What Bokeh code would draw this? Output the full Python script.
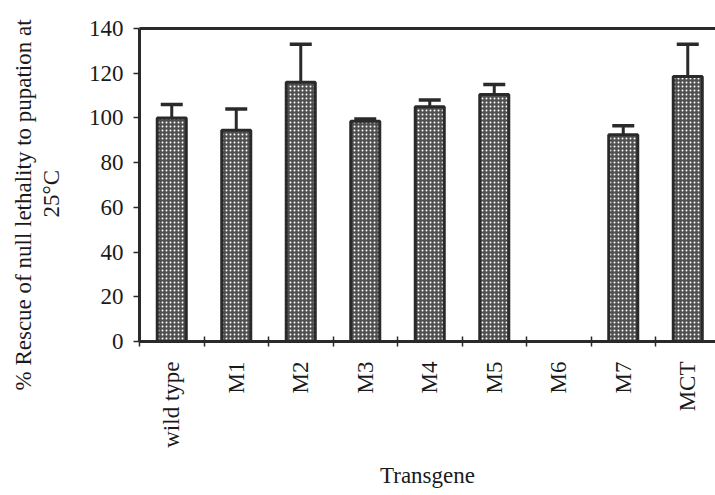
import numpy as np
from bokeh.plotting import figure
from bokeh.models import (ColumnDataSource, FixedTicker, LinearAxis, Whisker, TeeHead, Range1d, Title)
from bokeh.embed import file_html
from bokeh.resources import INLINE

categories = ["wild type", "M1", "M2", "M3", "M4", "M5", "M6", "M7", "MCT"]
rescue = [100, 94.5, 116, 98.5, 105, 110.5, 0, 92.5, 118.5]
error_top = [106, 104, 133, 99.5, 108, 115, None, 96.5, 133]
y_ticks = [0, 20, 40, 60, 80, 100, 120, 140]
y_label_lines = ["% Rescue of null lethality to pupation at", "25\u00b0C"]
x_label = "Transgene"

FONT = "Liberation Serif"
DARK = "#2a2a2a"
TXT = "#1a1a1a"
FS = "23px"

centers = [i + 0.5 for i in range(len(categories))]
bounds = [float(i) for i in range(len(categories) + 1)]

p = figure(width=715, height=495, output_backend="svg", toolbar_location=None,
           x_range=Range1d(0, len(categories) - 0.07), y_range=Range1d(0, 140),
           min_border_left=139, min_border_right=0, min_border_top=28, min_border_bottom=154)
p.outline_line_color = None
p.grid.visible = False
p.background_fill_color = "white"
p.border_fill_color = "white"

bar_src = ColumnDataSource(dict(x=[c for c, v in zip(centers, rescue) if v > 0],
                                top=[v for v in rescue if v > 0]))
p.vbar(x="x", top="top", bottom=0, width=0.45, source=bar_src,
       fill_color="#505050", hatch_pattern="dot", hatch_color="white",
       hatch_scale=4, hatch_weight=1.3,
       line_color=DARK, line_width=3)

err_src = ColumnDataSource(dict(x=[c for c, e in zip(centers, error_top) if e is not None],
                                lower=[v for v, e in zip(rescue, error_top) if e is not None],
                                upper=[e for e in error_top if e is not None]))
w = Whisker(base="x", lower="lower", upper="upper", source=err_src, dimension="height",
            line_color=DARK, line_width=3,
            upper_head=TeeHead(size=22, line_color=DARK, line_width=3.5),
            lower_head=None)
p.add_layout(w)

# x axis
xa = p.xaxis[0]
xa.ticker = FixedTicker(ticks=centers, minor_ticks=bounds)
xa.major_label_overrides = {c: lab for c, lab in zip(centers, categories)}
xa.major_label_orientation = np.pi / 2
xa.major_tick_line_color = None
xa.minor_tick_in = 5
xa.minor_tick_out = 5
xa.minor_tick_line_color = DARK
xa.minor_tick_line_width = 1.5
xa.axis_line_color = DARK
xa.axis_line_width = 3
xa.major_label_text_font = FONT
xa.major_label_text_font_size = FS
xa.major_label_text_color = TXT
xa.major_label_standoff = 14
xa.axis_label = x_label
xa.axis_label_text_font = FONT
xa.axis_label_text_font_size = FS
xa.axis_label_text_font_style = "normal"
xa.axis_label_text_color = TXT
xa.axis_label_standoff = 12

# y axis
ya = p.yaxis[0]
ya.ticker = FixedTicker(ticks=y_ticks)
ya.minor_tick_line_color = None
ya.major_tick_in = 0
ya.major_tick_out = 6
ya.major_tick_line_color = DARK
ya.major_tick_line_width = 1.5
ya.axis_line_color = DARK
ya.axis_line_width = 3
ya.major_label_text_font = FONT
ya.major_label_text_font_size = FS
ya.major_label_text_color = TXT
ya.major_label_standoff = 10

# y label as two left titles (nearest line first); align="left" starts text at the bottom
label_settings = [(124, 44), (-49, -42)]  # (offset, standoff) for "25°C", then the long line
for txt, (off, so) in zip(reversed(y_label_lines), label_settings):
    t = Title(text=txt, align="left", offset=off, text_font=FONT, text_font_size=FS,
              text_font_style="normal", text_color=TXT, standoff=so)
    p.add_layout(t, "left")

# top frame line
top_axis = LinearAxis(ticker=FixedTicker(ticks=[]), axis_line_color=DARK, axis_line_width=3,
                      major_tick_line_color=None, minor_tick_line_color=None,
                      major_label_text_font_size="0px")
p.add_layout(top_axis, "above")

open("out.html", "w").write(file_html(p, INLINE))
